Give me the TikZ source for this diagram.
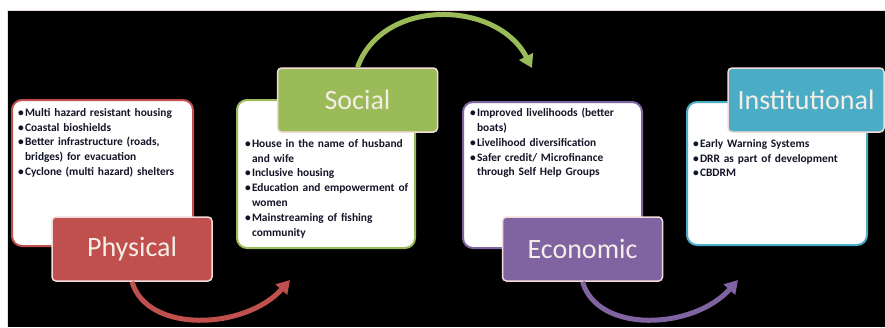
\documentclass[tikz,border=0pt]{standalone}
\usepackage{fontspec}
\setmainfont{Carlito}
\usetikzlibrary{arrows.meta}
\tikzset{>={Triangle[length=13pt,width=15pt]}}

\definecolor{physred}{HTML}{C0504D}
\definecolor{socgreen}{HTML}{9BBB59}
\definecolor{econpurple}{HTML}{8064A2}
\definecolor{instblue}{HTML}{4BACC6}
\definecolor{peach}{HTML}{F2DCDB}
\definecolor{cream}{HTML}{F4EEE6}
\definecolor{ink}{HTML}{141428}

% one bullet line, wrapped lines hang under the text
\newcommand{\bul}[1]{\hangindent=0.6em\hangafter=1\noindent\makebox[0.6em][l]{\textbullet}#1\par}

\tikzset{
  listbox/.style={draw=#1, fill=white, rounded corners=10pt, line width=2pt},
  tag/.style={fill=#1, draw=peach, rounded corners=4pt, line width=1.5pt, text=cream,
    font=\fontsize{28}{32}\selectfont, minimum width=160pt, minimum height=64pt},
  items/.style={anchor=north west, inner sep=0pt, text width=185pt, align=left,
    text=ink, font=\fontsize{11.4}{14.8}\selectfont\bfseries},
  flow/.style={->, line width=5pt}
}

\begin{document}
\begin{tikzpicture}[x=1pt, y=-1pt]
    \useasboundingbox (0,0) rectangle (885,327);
    \fill [black] (7,10) rectangle (885,327);
    \draw [peach, line width=0.6pt] (7,327) -- (7,10) -- (885,10);

    \coordinate (P) at (102.5,173);
    \coordinate (S) at (326,174);
    \coordinate (E) at (552.5,175);
    \coordinate (I) at (777,173.5);

    % white boxes with the lists
    \node [listbox=physred, minimum width=181pt, minimum height=146pt] (physbox) at (P) {};
    \node [listbox=socgreen, minimum width=178pt, minimum height=148pt] (socbox) at (S) {};
    \node [listbox=econpurple, minimum width=179pt, minimum height=146pt] (econbox) at (E) {};
    \node [listbox=instblue, minimum width=180pt, minimum height=143pt] (instbox) at (I) {};

    \node [items] (phystext) at (18,108) {%
      \bul{Multi hazard resistant housing}
      \bul{Coastal bioshields}
      \bul{Better infrastructure (roads,\newline bridges) for evacuation}
      \bul{Cyclone (multi hazard) shelters}};
    \node [items] (soctext) at (245,139) {%
      \bul{House in the name of husband\newline and wife}
      \bul{Inclusive housing}
      \bul{Education and empowerment of\newline women}
      \bul{Mainstreaming of fishing\newline community}};
    \node [items] (econtext) at (470,108) {%
      \bul{Improved livelihoods (better\newline boats)}
      \bul{Livelihood diversification}
      \bul{Safer credit/ Microfinance\newline through Self Help Groups}};
    \node [items] (insttext) at (693,139) {%
      \bul{Early Warning Systems}
      \bul{DRR as part of development}
      \bul{CBDRM}};

    % coloured tags
    \node [tag=physred] (physlbl) at (132,249) {Physical};
    \node [tag=socgreen] (soclbl) at (357.5,100) {Social};
    \node [tag=econpurple] (econlbl) at (582.5,249) {Economic};
    \node [tag=instblue, minimum width=156pt] (instlbl) at (806,100) {Institutional};

    % curved arrows between the tags
    \coordinate (physend) at (290,280);
    \coordinate (socend) at (532,68);
    \coordinate (econend) at (738,280);
    \draw [flow, physred] (physlbl.south) .. controls +(15,52) and +(-45,50) .. (physend);
    \draw [flow, socgreen] (soclbl.north) .. controls +(25,-70) and +(-35,-68) .. (socend);
    \draw [flow, econpurple] (econlbl.south) .. controls +(15,52) and +(-45,50) .. (econend);
\end{tikzpicture}
\end{document}
